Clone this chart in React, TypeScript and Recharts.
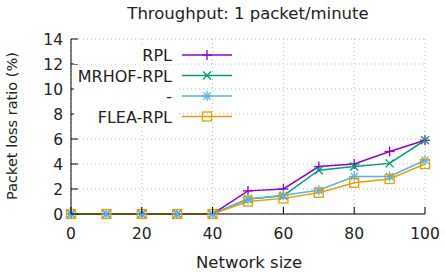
import React from "react";
import { LineChart, Line, XAxis, YAxis, CartesianGrid } from "recharts";

const sizes = [0, 10, 20, 30, 40, 50, 60, 70, 80, 90, 100];
const rpl = [0, 0, 0, 0, 0, 1.85, 2.0, 3.8, 4.0, 5.0, 5.9];
const mrhof = [0, 0, 0, 0, 0, 1.2, 1.45, 3.5, 3.8, 4.05, 5.9];
const third = [0, 0, 0, 0, 0, 1.2, 1.5, 1.9, 3.0, 3.0, 4.3];
const flea = [0, 0, 0, 0, 0, 1.0, 1.25, 1.7, 2.5, 2.8, 4.0];

const xTicks = [0, 20, 40, 60, 80, 100];
const yTicks = [0, 2, 4, 6, 8, 10, 12, 14];

const FONT = "'DejaVu Sans', Verdana, sans-serif";

const series = [
  { key: "rpl", name: "RPL", color: "#9400D3", marker: "plus" },
  { key: "mrhof", name: "MRHOF-RPL", color: "#009E73", marker: "cross" },
  { key: "third", name: "-", color: "#56B4E9", marker: "star" },
  { key: "flea", name: "FLEA-RPL", color: "#E69F00", marker: "square" },
];

const data = sizes.map((s, i) => ({
  size: s,
  rpl: rpl[i],
  mrhof: mrhof[i],
  third: third[i],
  flea: flea[i],
}));

function Marker({ cx, cy, type, color }: any) {
  const r = 5;
  if (type === "plus")
    return (
      <g stroke={color} strokeWidth={1.3}>
        <line x1={cx - r} y1={cy} x2={cx + r} y2={cy} />
        <line x1={cx} y1={cy - r} x2={cx} y2={cy + r} />
      </g>
    );
  if (type === "cross")
    return (
      <g stroke={color} strokeWidth={1.3}>
        <line x1={cx - 4} y1={cy - 4} x2={cx + 4} y2={cy + 4} />
        <line x1={cx - 4} y1={cy + 4} x2={cx + 4} y2={cy - 4} />
      </g>
    );
  if (type === "star")
    return (
      <g stroke={color} strokeWidth={1.3}>
        <line x1={cx - r} y1={cy} x2={cx + r} y2={cy} />
        <line x1={cx} y1={cy - r} x2={cx} y2={cy + r} />
        <line x1={cx - 3.5} y1={cy - 3.5} x2={cx + 3.5} y2={cy + 3.5} />
        <line x1={cx - 3.5} y1={cy + 3.5} x2={cx + 3.5} y2={cy - 3.5} />
      </g>
    );
  return (
    <rect x={cx - 4.5} y={cy - 4.5} width={9} height={9} fill="none" stroke={color} strokeWidth={1.3} />
  );
}

// inward ticks, gnuplot style
const BottomTick = ({ x, y, payload }: any) => (
  <g>
    <line x1={x} y1={y} x2={x} y2={y - 7} stroke="#000" />
    <text x={x} y={y + 25} textAnchor="middle" fontSize={15.5} fontFamily={FONT} fill="#222">
      {payload.value}
    </text>
  </g>
);
const TopTick = ({ x, y }: any) => <line x1={x} y1={y} x2={x} y2={y + 7} stroke="#000" />;
const LeftTick = ({ x, y, payload }: any) => (
  <g>
    <line x1={x} y1={y} x2={x + 7} y2={y} stroke="#000" />
    <text x={x - 8} y={y + 5.5} textAnchor="end" fontSize={15.5} fontFamily={FONT} fill="#222">
      {payload.value}
    </text>
  </g>
);
const RightTick = ({ x, y }: any) => <line x1={x} y1={y} x2={x - 7} y2={y} stroke="#000" />;

export default function App() {
  return (
    <div style={{ position: "absolute", left: 0, top: 0, width: 445, height: 272, background: "#fff" }}>
      <LineChart
        width={445}
        height={272}
        data={data}
        margin={{ top: 39, right: 20, left: 0, bottom: 0 }}
      >
        <CartesianGrid stroke="#bbb" strokeDasharray="1 3" xAxisId="b" yAxisId="l" />
        <XAxis
          xAxisId="b"
          dataKey="size"
          type="number"
          domain={[0, 100]}
          ticks={xTicks}
          interval={0}
          height={58}
          stroke="#000"
          tickLine={false}
          tickSize={0}
          tickMargin={0}
          tick={<BottomTick />}
        />
        <XAxis
          xAxisId="t"
          orientation="top"
          dataKey="size"
          type="number"
          domain={[0, 100]}
          ticks={xTicks}
          interval={0}
          height={0}
          stroke="#000"
          tickLine={false}
          tickSize={0}
          tickMargin={0}
          tick={<TopTick />}
        />
        <YAxis
          yAxisId="l"
          domain={[0, 14]}
          ticks={yTicks}
          interval={0}
          width={71}
          stroke="#000"
          tickLine={false}
          tickSize={0}
          tickMargin={0}
          tick={<LeftTick />}
        />
        <YAxis
          yAxisId="r"
          orientation="right"
          domain={[0, 14]}
          ticks={yTicks}
          interval={0}
          width={0}
          stroke="#000"
          tickLine={false}
          tickSize={0}
          tickMargin={0}
          tick={<RightTick />}
        />
        {series.map((s) => (
          <Line
            key={s.key}
            xAxisId="b"
            yAxisId="l"
            dataKey={s.key}
            name={s.name}
            stroke={s.color}
            strokeWidth={1.5}
            isAnimationActive={false}
            dot={(p: any) => <Marker key={`${s.key}-${p.index}`} cx={p.cx} cy={p.cy} type={s.marker} color={s.color} />}
          />
        ))}
      </LineChart>
      <svg
        width={445}
        height={272}
        style={{ position: "absolute", left: 0, top: 0, pointerEvents: "none" }}
      >
        <text x={248} y={19} textAnchor="middle" fontSize={16.5} fontFamily={FONT} fill="#222">
          Throughput: 1 packet/minute
        </text>
        <text x={249} y={268} textAnchor="middle" fontSize={16.5} fontFamily={FONT} fill="#222">
          Network size
        </text>
        <text
          x={0}
          y={0}
          transform="translate(17,126) rotate(-90)"
          textAnchor="middle"
          fontSize={14.5}
          fontFamily={FONT}
          fill="#222"
        >
          Packet loss ratio (%)
        </text>
        {series.map((s, i) => {
          const y = 55 + i * 20.5;
          return (
            <g key={s.key}>
              <rect x={74} y={y - 9} width={102} height={18} fill="#fff" />
              <text x={172} y={y + 6} textAnchor="end" fontSize={16} fontFamily={FONT} fill="#222">
                {s.name}
              </text>
              <line x1={182} y1={y} x2={232} y2={y} stroke={s.color} strokeWidth={1.5} />
              <Marker cx={207} cy={y} type={s.marker} color={s.color} />
            </g>
          );
        })}
      </svg>
    </div>
  );
}
